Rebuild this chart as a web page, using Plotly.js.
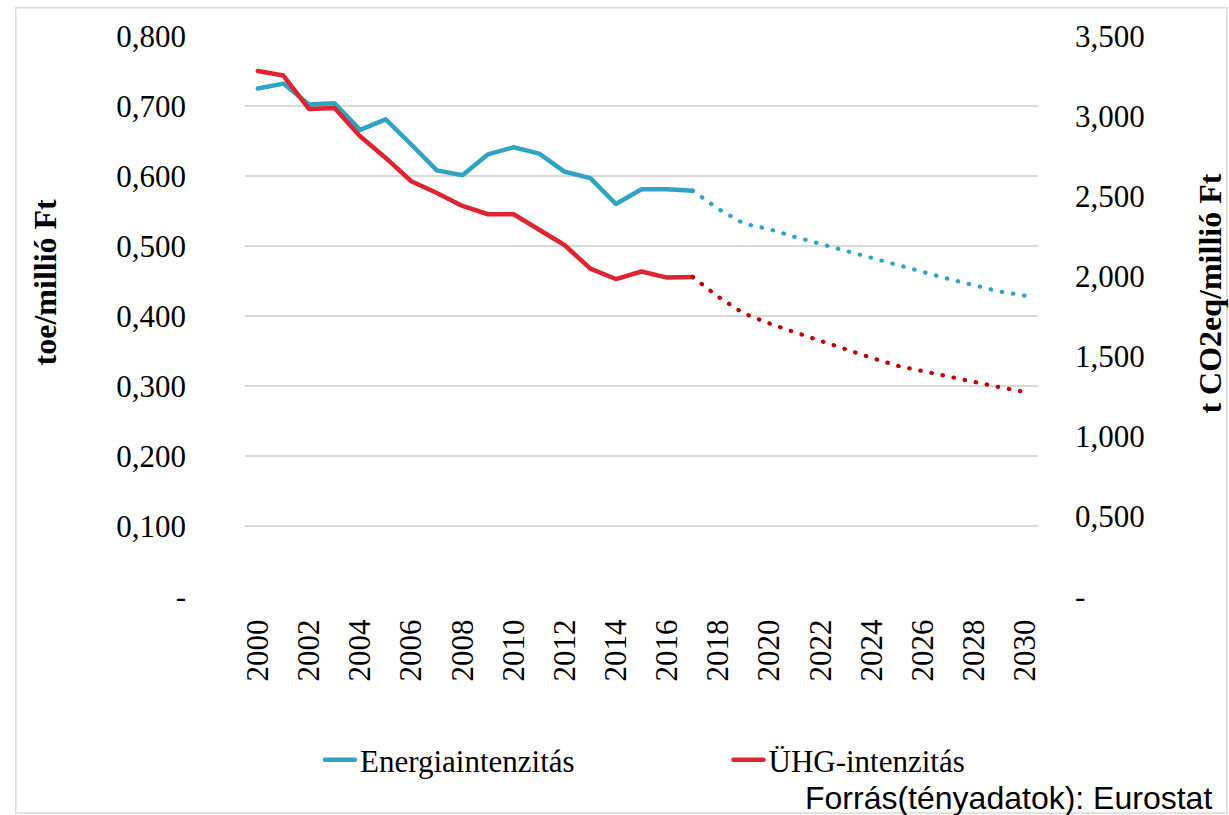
<!DOCTYPE html>
<html>
<head>
<meta charset="utf-8">
<script src="https://cdn.plot.ly/plotly-3.0.1.min.js"></script>
<style>
  html, body { margin: 0; padding: 0; background: #fff; }
  #chart { width: 1229px; height: 815px; }
  path.js-line { stroke-linecap: round; stroke-linejoin: round; }
</style>
</head>
<body>
<div id="chart"></div>
<script>
// ---- Data ----
const yearsActual = [2000,2001,2002,2003,2004,2005,2006,2007,2008,2009,2010,2011,2012,2013,2014,2015,2016,2017];
const yearsProjection = [2017,2018,2019,2020,2021,2022,2023,2024,2025,2026,2027,2028,2029,2030];

// Energiaintenzitás (toe/millió Ft), left axis
const energyActual = [0.725,0.732,0.702,0.704,0.666,0.681,0.645,0.608,0.601,0.631,0.641,0.632,0.606,0.597,0.560,0.581,0.581,0.579];
const energyProjection = [0.579,0.553,0.532,0.524,0.513,0.503,0.492,0.482,0.472,0.463,0.453,0.444,0.435,0.429];

// ÜHG-intenzitás (t CO2eq/millió Ft), right axis
const ghgActual = [3.281,3.253,3.044,3.050,2.873,2.738,2.592,2.519,2.438,2.386,2.386,2.286,2.192,2.046,1.981,2.028,1.990,1.994];
const ghgProjection = [1.994,1.870,1.766,1.703,1.648,1.593,1.541,1.488,1.439,1.404,1.370,1.337,1.305,1.275];

const seriesNames = ["Energiaintenzitás", "ÜHG-intenzitás"];
const xTickVals = [2000,2002,2004,2006,2008,2010,2012,2014,2016,2018,2020,2022,2024,2026,2028,2030];
const xTickText = ["2000","2002","2004","2006","2008","2010","2012","2014","2016","2018","2020","2022","2024","2026","2028","2030"];
const leftTickVals = [0,0.1,0.2,0.3,0.4,0.5,0.6,0.7,0.8];
const leftTickText = ["-","0,100","0,200","0,300","0,400","0,500","0,600","0,700","0,800"];
const rightTickVals = [0,0.5,1,1.5,2,2.5,3,3.5];
const rightTickText = ["-","0,500","1,000","1,500","2,000","2,500","3,000","3,500"];
const leftTitle = "toe/millió Ft";
const rightTitle = "t CO2eq/millió Ft";
const sourceText = "Forrás(tényadatok): Eurostat";

// ---- Styling ----
const BLUE = "#2fa3c4";
const RED = "#de2430";
const RED_DOT = "#c00000";
const SERIF = "Liberation Serif, Times New Roman, serif";
const SANS = "Liberation Sans, Arial, sans-serif";
const GRID = "#d9d9d9";
const TICKFONT = { family: SERIF, size: 31, color: "#000000" };

const traces = [
  { x: yearsActual, y: energyActual, name: seriesNames[0], type: "scatter", mode: "lines",
    line: { color: BLUE, width: 4.5 }, yaxis: "y", legend: "legend" },
  { x: yearsActual, y: ghgActual, name: seriesNames[1], type: "scatter", mode: "lines",
    line: { color: RED, width: 4.5 }, yaxis: "y2", legend: "legend2" },
  { x: yearsProjection, y: energyProjection, name: seriesNames[0] + " (előrejelzés)", type: "scatter", mode: "lines",
    line: { color: BLUE, width: 4.2, dash: "0.5px,10.8px" }, yaxis: "y", showlegend: false },
  { x: yearsProjection, y: ghgProjection, name: seriesNames[1] + " (előrejelzés)", type: "scatter", mode: "lines",
    line: { color: RED_DOT, width: 4.2, dash: "0.5px,10.8px" }, yaxis: "y2", showlegend: false }
];

const legendFont = { family: SERIF, size: 31, color: "#000000" };

const layout = {
  width: 1229, height: 815,
  margin: { l: 245, r: 191, t: 36, b: 219, pad: 0 },
  paper_bgcolor: "#ffffff", plot_bgcolor: "#ffffff",
  font: { family: SERIF, size: 31, color: "#000000" },
  showlegend: true,
  legend: {
    orientation: "h", x: 0.0946, xanchor: "left", y: -0.293, yanchor: "middle",
    font: legendFont, bgcolor: "rgba(0,0,0,0)"
  },
  legend2: {
    orientation: "h", x: 0.6097, xanchor: "left", y: -0.293, yanchor: "middle",
    font: legendFont, bgcolor: "rgba(0,0,0,0)"
  },
  xaxis: {
    range: [1999.5, 2030.5], tickmode: "array", tickvals: xTickVals, ticktext: xTickText,
    tickangle: -90, showgrid: false, zeroline: false, showline: false,
    ticks: "outside", ticklen: 10, tickcolor: "rgba(0,0,0,0)",
    tickfont: TICKFONT, automargin: false, fixedrange: true
  },
  yaxis: {
    range: [0, 0.8], tickmode: "array", tickvals: leftTickVals, ticktext: leftTickText,
    showgrid: true, gridcolor: GRID, gridwidth: 1.5, zeroline: false, showline: false,
    ticks: "", ticklabelstandoff: 58,
    tickfont: TICKFONT, automargin: false, fixedrange: true
  },
  yaxis2: {
    range: [0, 3.5], overlaying: "y", side: "right", tickmode: "array",
    tickvals: rightTickVals, ticktext: rightTickText,
    showgrid: false, zeroline: false, showline: false, ticks: "", ticklabelstandoff: 36,
    tickfont: TICKFONT, automargin: false, fixedrange: true
  },
  annotations: [
    { text: "<b>" + leftTitle + "</b>", xref: "paper", yref: "paper", x: -0.2522, y: 0.56,
      xanchor: "center", yanchor: "middle", textangle: -90, showarrow: false,
      font: { family: SERIF, size: 32, color: "#000000" } },
    { text: "<b>" + rightTitle + "</b>", xref: "paper", yref: "paper", x: 1.2169, y: 0.54,
      xanchor: "center", yanchor: "middle", textangle: -90, showarrow: false,
      font: { family: SERIF, size: 32, color: "#000000" } },
    { text: sourceText, xref: "paper", yref: "paper", x: 1.222, y: -0.361,
      xanchor: "right", yanchor: "middle", showarrow: false,
      font: { family: SANS, size: 32, color: "#000000" } }
  ],
  shapes: [
    { type: "rect", xref: "paper", yref: "paper",
      x0: -0.2891, x1: 1.2383, y0: -0.3875, y1: 1.0504,
      line: { color: GRID, width: 1.5 }, fillcolor: "rgba(0,0,0,0)", layer: "below" }
  ]
};

Plotly.newPlot("chart", traces, layout, { displayModeBar: false, staticPlot: true });
</script>
</body>
</html>
